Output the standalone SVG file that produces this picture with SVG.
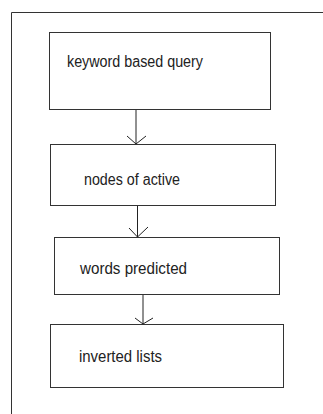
<svg xmlns="http://www.w3.org/2000/svg" width="323" height="414" viewBox="0 0 323 414">
<style>
.box{fill:#fff;stroke:#333;stroke-width:1}
.lbl{font-family:"Liberation Sans",Arial,sans-serif;font-size:16px;fill:#222}
.c{stroke:#222;stroke-width:1;fill:none}
</style>
<rect width="323" height="414" fill="#fff"/>
<path d="M11.5 414 V12.5 H323" fill="none" stroke="#333" stroke-width="1"/>
<g id="n1"><rect class="box" x="49.5" y="32.5" width="221" height="77"/><text class="lbl" x="67" y="66.5" textLength="136" lengthAdjust="spacingAndGlyphs">keyword based query</text></g>
<g id="n2"><rect class="box" x="50.5" y="144.5" width="225" height="61"/><text class="lbl" x="84" y="184.5" textLength="96" lengthAdjust="spacingAndGlyphs">nodes of active</text></g>
<g id="n3"><rect class="box" x="54.5" y="237.5" width="225" height="57"/><text class="lbl" x="80" y="273.5" textLength="107" lengthAdjust="spacingAndGlyphs">words predicted</text></g>
<g id="n4"><rect class="box" x="50.5" y="324.5" width="233" height="63"/><text class="lbl" x="79" y="362" textLength="83" lengthAdjust="spacingAndGlyphs">inverted lists</text></g>
<g id="connectors">
<path class="c" d="M136 110 V144 M127 136 L136 144 L146 136"/>
<path class="c" d="M137.5 206 V237 M129 228 L137.5 237 L148 227"/>
<path class="c" d="M143 295 V324 M135 318 L143 324 L153 318"/>
</g>
</svg>
